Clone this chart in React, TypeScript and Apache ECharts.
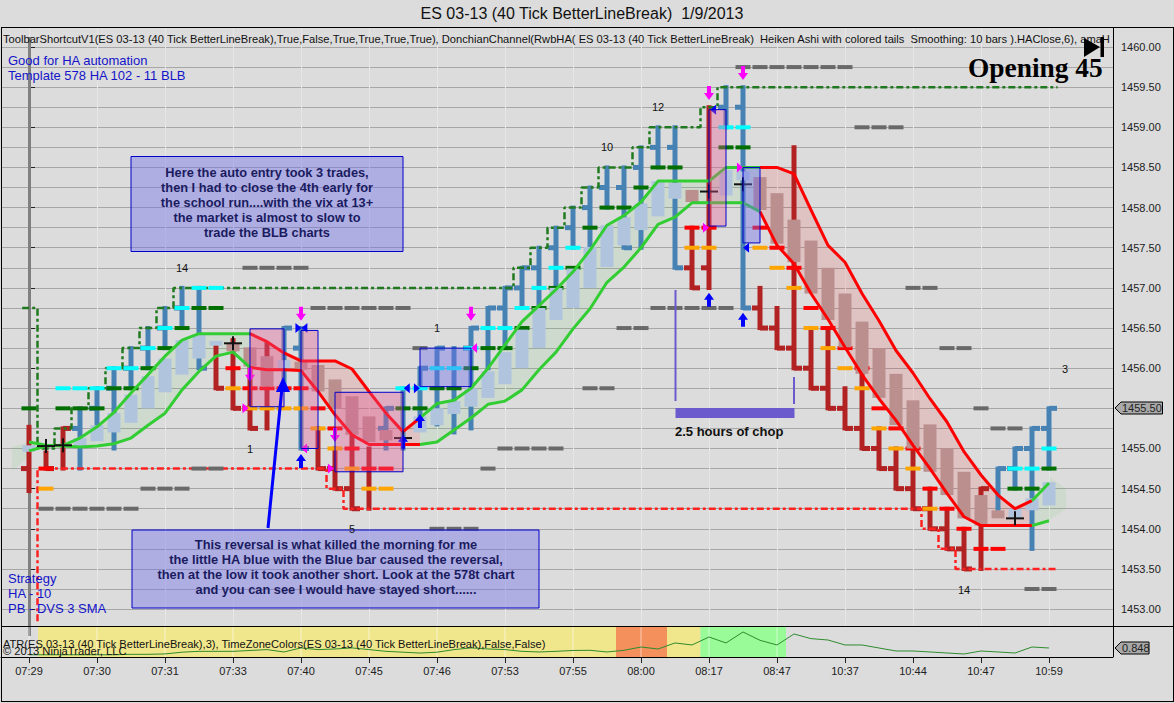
import React, { useEffect, useRef } from "react";
import * as echarts from "echarts";

const FONT = "'Liberation Sans', Arial, sans-serif";

const xTickLabels = ["07:29", "07:30", "07:31", "07:33", "07:40", "07:45", "07:46", "07:53", "07:55", "08:00", "08:17", "08:47", "10:37", "10:44", "10:47", "10:59"];
const xTickBars = [0, 4, 8, 12, 16, 20, 24, 28, 32, 36, 40, 44, 48, 52, 56, 60];
const priceLabels = [1453, 1453.5, 1454, 1454.5, 1455, 1455.5, 1456, 1456.5, 1457, 1457.5, 1458, 1458.5, 1459, 1459.5, 1460];
const priceGrid = [1453, 1453.25, 1453.5, 1453.75, 1454, 1454.25, 1454.5, 1454.75, 1455, 1455.25, 1455.5, 1455.75, 1456, 1456.25, 1456.5, 1456.75, 1457, 1457.25, 1457.5, 1457.75, 1458, 1458.25, 1458.5, 1458.75, 1459, 1459.25, 1459.5, 1459.75, 1460];

// bar, high, low, left tick, right tick, up(1)/down(0)
const lineBreakBars: (number | null)[][] = [
  [0, 1455.27, 1454.47, 1454.75, null, 0],
  [1, 1454.95, 1454.75, null, 1454.75, 0],
  [2, 1455.25, 1454.75, null, 1455.25, 0],
  [3, 1455.5, 1454.75, 1455.25, null, 1],
  [4, 1455.75, 1455.25, 1455.5, null, 1],
  [5, 1456, 1455, 1455.75, null, 1],
  [6, 1456.25, 1455.75, 1456, null, 1],
  [7, 1456.5, 1456, 1456.25, null, 1],
  [8, 1456.75, 1456.25, 1456.5, null, 1],
  [9, 1457, 1456.5, 1456.75, null, 1],
  [10, 1457, 1456, null, 1456, 1],
  [11, 1456.28, 1455.75, null, 1455.75, 0],
  [12, 1456.35, 1455.5, null, 1455.5, 0],
  [13, 1456, 1455.25, 1455.5, 1455.25, 0],
  [14, 1456.3, 1455.25, null, null, 0],
  [15, 1456.5, 1455.75, null, 1456.5, 1],
  [16, 1456.5, 1455, 1456.25, 1455, 1],
  [17, 1455.25, 1454.75, null, 1454.75, 0],
  [18, 1455, 1454.5, 1454.75, 1454.5, 0],
  [19, 1455.2, 1454.25, 1454.5, 1454.25, 0],
  [20, 1455, 1454.25, null, null, 0],
  [21, 1455.5, 1455, 1455.25, 1455.5, 1],
  [22, 1455.75, 1455, null, null, 1],
  [23, 1456, 1455.25, null, 1456, 1],
  [24, 1456.25, 1455.3, null, 1456.25, 1],
  [25, 1456.25, 1455.2, null, null, 1],
  [26, 1456.5, 1455.25, 1456.25, 1456.5, 1],
  [27, 1456.75, 1456, null, 1456.75, 1],
  [28, 1457, 1456.25, 1456.75, 1457, 1],
  [29, 1457.25, 1456.75, 1457, 1457.25, 1],
  [30, 1457.5, 1456.75, 1457.25, null, 1],
  [31, 1457.75, 1457, 1457.5, null, 1],
  [32, 1458, 1457.5, 1457.75, null, 1],
  [33, 1458.25, 1457.5, 1458, null, 1],
  [34, 1458.5, 1458, 1458.25, null, 1],
  [35, 1458.5, 1457.5, 1458.25, 1457.5, 1],
  [36, 1458.75, 1457.5, 1458.5, null, 1],
  [37, 1459, 1458.5, 1458.75, null, 1],
  [38, 1459, 1457.25, 1458.75, 1457.25, 1],
  [39, 1457.75, 1457, 1457.25, 1457, 0],
  [40, 1459.25, 1457, 1457.25, null, 0],
  [41, 1459.5, 1459, 1459.25, null, 1],
  [42, 1459.5, 1456.75, 1459.25, 1456.75, 1],
  [43, 1457, 1456.5, 1456.75, 1456.5, 0],
  [44, 1456.75, 1456.25, 1456.5, 1456.25, 0],
  [45, 1458.75, 1456, 1456.25, 1456, 0],
  [46, 1456.5, 1455.75, 1456, 1455.75, 0],
  [47, 1456.5, 1455.5, 1455.75, 1455.5, 0],
  [48, 1455.75, 1455.25, 1455.5, 1455.25, 0],
  [49, 1456, 1455, 1455.25, 1455, 0],
  [50, 1455.25, 1454.75, 1455, 1454.75, 0],
  [51, 1455, 1454.5, 1454.75, 1454.5, 0],
  [52, 1455, 1454.25, 1454.5, 1454.25, 0],
  [53, 1454.5, 1454, 1454.25, 1454, 0],
  [54, 1454.25, 1453.75, 1454, 1453.75, 0],
  [55, 1454, 1453.5, 1453.75, 1453.5, 0],
  [56, 1454.5, 1453.5, null, 1454.5, 0],
  [57, 1454.75, 1454.25, null, 1454.75, 1],
  [58, 1455, 1454.5, 1454.75, 1455, 1],
  [59, 1455.25, 1453.75, 1455, 1455.25, 1],
  [60, 1455.5, 1454.75, 1455.25, 1455.5, 1],
];

// bar, top, bottom, up(1)/down(0)
const haBoxes: number[][] = [
  [0, 1455.04, 1454.96, 1], [3, 1455.13, 1455.02, 1], [4, 1455.29, 1455.09, 1], [5, 1455.44, 1455.2, 1], [6, 1455.67, 1455.32, 1],
  [7, 1455.9, 1455.5, 1], [8, 1456.12, 1455.7, 1], [9, 1456.35, 1455.92, 1], [10, 1456.42, 1456.12, 1], [11, 1456.34, 1456.28, 1],
  [12, 1456.31, 1456.21, 0], [13, 1456.26, 1456.02, 0], [14, 1456.15, 1455.77, 0], [15, 1456.1, 1456, 1], [16, 1456.08, 1455.98, 0],
  [17, 1456.04, 1455.71, 0], [18, 1455.86, 1455.5, 0], [19, 1455.65, 1455.17, 0], [20, 1455.4, 1455.08, 0], [21, 1455.23, 1455.1, 0],
  [23, 1455.4, 1455.2, 1], [24, 1455.5, 1455.29, 1], [25, 1455.59, 1455.43, 1], [26, 1455.75, 1455.52, 1], [27, 1455.96, 1455.63, 1],
  [28, 1456.2, 1455.8, 1], [29, 1456.48, 1456, 1], [30, 1456.75, 1456.25, 1], [31, 1457, 1456.6, 1], [32, 1457.24, 1456.75, 1],
  [33, 1457.51, 1457, 1], [34, 1457.78, 1457.26, 1], [35, 1457.88, 1457.53, 1], [36, 1458.05, 1457.72, 1], [37, 1458.33, 1457.89, 1],
  [38, 1458.31, 1458.11, 1], [39, 1458.22, 1458.07, 0], [41, 1458.47, 1458.15, 1], [42, 1458.45, 1458.34, 1], [43, 1458.38, 1457.97, 0],
  [44, 1458.18, 1457.55, 0], [45, 1457.85, 1457.32, 0], [46, 1457.59, 1456.93, 0], [47, 1457.25, 1456.6, 0], [48, 1456.93, 1456.26, 0],
  [49, 1456.58, 1455.93, 0], [50, 1456.25, 1455.63, 0], [51, 1455.93, 1455.29, 0], [52, 1455.6, 1455, 0], [53, 1455.3, 1454.71, 0],
  [54, 1455, 1454.42, 0], [55, 1454.71, 1454.13, 0], [56, 1454.42, 1454.04, 0], [57, 1454.23, 1454.13, 0], [58, 1454.25, 1454.13, 1],
  [59, 1454.38, 1454.23, 1], [60, 1454.58, 1454.29, 1],
];

const cloudUpper = [1454.97, 1455.03, 1455.04, 1455.13, 1455.27, 1455.45, 1455.69, 1455.92, 1456.15, 1456.35, 1456.43, 1456.43, 1456.43, 1456.43, 1456.33, 1456.19, 1456.09, 1456.09, 1456.09, 1455.99, 1455.71, 1455.44, 1455.21, 1455.38, 1455.56, 1455.6, 1455.75, 1456, 1456.29, 1456.58, 1456.78, 1456.98, 1457.2, 1457.47, 1457.78, 1457.9, 1458.07, 1458.33, 1458.33, 1458.33, 1458.33, 1458.5, 1458.5, 1458.5, 1458.5, 1458.42, 1457.97, 1457.53, 1457.32, 1456.93, 1456.59, 1456.22, 1455.94, 1455.62, 1455.33, 1454.96, 1454.67, 1454.42, 1454.25, 1454.35, 1454.57];
const cloudLower = [1455.08, 1455.04, 1455.03, 1455.02, 1455.03, 1455.06, 1455.13, 1455.29, 1455.44, 1455.73, 1455.96, 1456.15, 1456.2, 1456.01, 1455.98, 1455.98, 1455.97, 1455.71, 1455.42, 1455.17, 1455.05, 1455.05, 1455.05, 1455.05, 1455.08, 1455.23, 1455.38, 1455.55, 1455.59, 1455.73, 1455.98, 1456.2, 1456.49, 1456.74, 1457.07, 1457.26, 1457.5, 1457.79, 1457.88, 1458.06, 1458.06, 1458.06, 1458.06, 1457.95, 1457.53, 1457.3, 1456.93, 1456.61, 1456.26, 1455.92, 1455.62, 1455.35, 1455.04, 1454.75, 1454.44, 1454.15, 1454.04, 1454.04, 1454.04, 1454.04, 1454.1];
// first bar, last bar, colour kind of the cloud stretches
const cloudRanges: [number, number, string][] = [[0, 13, "g"], [13, 23, "r"], [23, 43, "g"], [43, 59, "r"], [59, 60, "g"]];
// tails of the pale band: x, top, bottom, x, top, bottom
const cloudTails = [[-1, 1455.02, 1454.72, 0, 1455.08, 1454.9], [60, 1454.65, 1454.1, 61, 1454.5, 1454.25]];

const donchianUpper: number[][] = [[-0.4, 1456.75], [0.5, 1456.75], [0.5, 1455], [1, 1455], [2, 1455.25], [3, 1455.5], [4, 1455.75], [5, 1456], [6, 1456.25], [7, 1456.5], [8, 1456.75], [9, 1457], [28, 1457], [29, 1457.25], [30, 1457.5], [31, 1457.75], [32, 1458], [33, 1458.25], [34, 1458.5], [35, 1458.5], [36, 1458.75], [37, 1459], [39, 1459], [40, 1459.25], [41, 1459.5], [60.5, 1459.5]];
const donchianLower: number[][] = [[0.5, 1452.85], [0.5, 1454.75], [17, 1454.75], [18, 1454.5], [19, 1454.25], [52, 1454.25], [53, 1454], [54, 1453.75], [55, 1453.5], [60.5, 1453.5]];

const darkGreenDashes = [[0, 1455.5], [2, 1455.5], [3, 1455.5], [4, 1455.5], [5, 1455.75], [6, 1455.75], [7, 1456], [8, 1456.25], [9, 1456.5], [10, 1456.75], [11, 1456.75], [22, 1455.5], [23, 1455.5], [24, 1455.75], [25, 1455.75], [26, 1456], [27, 1456.25], [28, 1456.25], [29, 1456.5], [30, 1456.75], [31, 1457], [32, 1457.25], [33, 1457.75], [34, 1458], [35, 1458], [36, 1458.25], [37, 1458.5], [38, 1458.5], [41, 1458.75], [42, 1458.75], [58, 1454.5], [59, 1454.5], [60, 1454.75]];
const cyanDashes = [[2, 1455.75], [3, 1455.75], [4, 1455.75], [5, 1456], [6, 1456], [7, 1456.25], [8, 1456.5], [9, 1456.75], [10, 1457], [11, 1457], [22, 1455.75], [23, 1455.75], [24, 1456], [25, 1456], [26, 1456.25], [27, 1456.5], [28, 1456.5], [29, 1456.75], [30, 1457], [31, 1457.25], [32, 1457.5], [41, 1459], [42, 1459], [58, 1454.75], [59, 1454.75], [60, 1455]];
const orangeDashes = [[1, 1454.5], [12, 1455.75], [13, 1455.5], [14, 1455.5], [15, 1455.5], [16, 1455.5], [17, 1455.25], [18, 1455], [19, 1454.75], [20, 1454.5], [21, 1454.5], [39, 1457.5], [40, 1457.5], [43, 1457.5], [44, 1457.25], [45, 1457], [46, 1456.5], [47, 1456.25], [48, 1456], [49, 1455.75], [50, 1455.25], [51, 1455], [52, 1454.75], [53, 1454.25]];
const redDashes = [[1, 1454.75], [12, 1456], [13, 1455.75], [14, 1455.75], [15, 1455.75], [16, 1455.75], [17, 1455.5], [18, 1455.25], [19, 1455], [20, 1454.75], [21, 1454.75], [39, 1457.75], [40, 1457.75], [43, 1457.75], [44, 1457.5], [45, 1457.25], [46, 1456.75], [47, 1456.5], [48, 1456.25], [49, 1456], [50, 1455.5], [51, 1455.25], [52, 1455], [53, 1454.5], [54, 1454.25], [55, 1454], [56, 1453.75], [57, 1453.75]];
const grayDashes = [[1, 1454.25], [2, 1454.25], [3, 1454.25], [4, 1454.25], [5, 1454.25], [6, 1454.25], [7, 1454.5], [8, 1454.5], [9, 1454.5], [10, 1454.75], [11, 1454.75], [13, 1457.25], [14, 1457.25], [15, 1457.25], [16, 1457.25], [17, 1456.75], [18, 1456.75], [19, 1456.75], [20, 1456.75], [21, 1456.75], [22, 1456.75], [23, 1456.25], [24, 1454], [25, 1454], [26, 1454], [27, 1454.75], [28, 1455], [29, 1455], [30, 1455], [31, 1455], [33, 1455.75], [34, 1455.75], [35, 1456.5], [36, 1456.5], [37, 1456.75], [38, 1456.75], [39, 1456.75], [40, 1456.75], [41, 1456.75], [42, 1459.75], [43, 1459.75], [44, 1459.75], [45, 1459.75], [46, 1459.75], [47, 1459.75], [48, 1459.75], [49, 1459], [50, 1459], [51, 1459], [52, 1457], [53, 1457], [54, 1456.25], [55, 1456.25], [56, 1455.5], [57, 1455.25], [58, 1455.25], [59, 1453.25], [60, 1453.25]];

const crossMarks = [[1, 1455.03], [2, 1455.04], [12, 1456.31], [22, 1455.13], [40, 1458.2], [42, 1458.29], [58, 1454.13]];
const magentaDownArrows = [[13, 1455.83], [16, 1456.59], [18, 1455.08], [26, 1456.59], [40, 1459.34], [42, 1459.59]];
const blueUpArrows = [[16, 1454.93], [22, 1455.17], [23, 1455.43], [40, 1456.94], [42, 1456.69]];
// bar position, price, direction (1 points right, -1 points left), magenta(1)/blue(0)
const smallTriangles = [[12.74, 1455.5, 1, 1], [16.18, 1455, -1, 1], [17.76, 1454.75, 1, 1], [15.85, 1456.5, 1, 0], [16.2, 1456.5, -1, 0], [22.22, 1455.75, -1, 0], [22.82, 1455.75, 1, 0], [26.18, 1456.25, -1, 1], [41.82, 1458.5, 1, 1], [39.82, 1457.75, 1, 1], [42.18, 1457.5, -1, 0], [40.24, 1459.22, -1, 0]];
// first bar, last bar, top, bottom, pink(1)/blue(0)
const zoneRects = [[13, 15, 1456.49, 1455.52, 1], [16, 17, 1456.47, 1455, 1], [18, 22, 1455.7, 1454.71, 1], [23, 26, 1456.25, 1455.77, 0], [40, 41, 1459.22, 1457.77, 1], [42, 43, 1458.5, 1457.56, 0]];

const atrValues = [0.69, 0.69, 0.69, 0.69, 0.69, 0.69, 0.7, 0.7, 0.71, 0.75, 0.77, 0.77, 0.77, 0.79, 0.81, 0.755, 0.85, 0.81, 0.825, 0.85, 0.81, 0.77, 0.75, 0.73, 0.75, 0.81, 0.85, 0.825, 0.81, 0.77, 0.755, 0.77, 0.79, 0.794, 0.755, 0.794, 0.871, 0.825, 0.965, 0.918, 1.104, 0.965, 1.221, 1.027, 0.918, 1.174, 1.066, 1.034, 0.918, 0.918, 0.848, 0.778, 0.778, 0.755, 0.731, 0.708, 0.778, 0.755, 0.731, 0.871, 0.848];
// from bar, to bar, colour
const timeZones: [number, number, string][] = [[0.53, 34.53, "#F0E68C"], [34.53, 37.53, "#F4905C"], [37.53, 39.5, "#F0E68C"], [39.5, 44.53, "#98FB98"]];

const TITLE = "ES 03-13 (40 Tick BetterLineBreak)  1/9/2013";
const TOP_LABEL = "ToolbarShortcutV1(ES 03-13 (40 Tick BetterLineBreak),True,False,True,True,True,True), DonchianChannel(RwbHA( ES 03-13 (40 Tick BetterLineBreak)  Heiken Ashi with colored tails  Smoothing: 10 bars ).HAClose,6), amaH";
const ATR_LABEL = "ATR(ES 03-13 (40 Tick BetterLineBreak),3), TimeZoneColors(ES 03-13 (40 Tick BetterLineBreak),False,False)";
const NOTE_1 = ["Here the auto entry took 3 trades,", "then I had to close the 4th early for", "the school run....with the vix at 13+", "the market is almost to slow to", "trade the BLB charts"];
const NOTE_2 = ["This reversal is what killed the morning for me", "the little HA blue with the Blue bar caused the reversal,", "then at the low it took another short. Look at the 578t chart", "and you can see I would have stayed short......"];
const CORNER_1 = ["Good for HA automation", "Template 578 HA 102 - 11 BLB"];
const CORNER_2 = ["Strategy", "HA - 10", "PB - DVS 3 SMA"];
const COUNTS: [string, number, number][] = [["14", 182, 268], ["1", 250, 449], ["1", 437, 328], ["5", 352, 529], ["10", 607, 147], ["12", 658, 107], ["3", 1065, 369], ["14", 964, 590]];

const custom = (name: string, data: any[], renderItem: any, z: number, xi = 0, yi = 0) => ({
  type: "custom", name, data, renderItem, z, silent: true, xAxisIndex: xi, yAxisIndex: yi, encode: { x: 0, y: 1 }, animation: false,
});

const dashSeries = (name: string, data: number[][], fill: string, w = 15, h = 4) =>
  custom(name, data, (_p: any, api: any) => {
    const c = api.coord([api.value(0), api.value(1)]);
    return { type: "rect", shape: { x: c[0] - w / 2, y: c[1] - h / 2, width: w, height: h }, style: { fill } };
  }, 4);

const lineSeries = (name: string, data: number[][], color: string, width: number, extra: any = {}) => ({
  type: "line", name, data, symbol: "none", silent: true, xAxisIndex: 0, yAxisIndex: 0, z: 6, animation: false,
  lineStyle: { color, width, ...extra.lineStyle }, step: extra.step,
});

const text = (t: string, x: number, y: number, font: string, fill: string, textAlign = "left", z = 60) => ({
  type: "text", z, silent: true, style: { text: t, x, y, font, fill, textAlign, textVerticalAlign: "middle" },
});
const frame = (x: number, y: number, width: number, height: number, fill: string, z = 58) => ({
  type: "rect", z, silent: true, shape: { x, y, width, height }, style: { fill },
});

export default function App() {
  const ref = useRef<HTMLDivElement>(null);
  useEffect(() => {
    const chart = echarts.init(ref.current!, null, { renderer: "svg" });
    const series: any[] = [];

    // Pale band between the two lines
    const cloudRows: any[] = [];
    cloudRanges.forEach(([a, b, k]) => {
      for (let i = a; i < b; i++) cloudRows.push([i, cloudUpper[i], cloudLower[i], i + 1, cloudUpper[i + 1], cloudLower[i + 1], k === "g" ? 1 : 0]);
    });
    cloudTails.forEach((t) => cloudRows.push([t[0], t[1], t[2], t[3], t[4], t[5], 1]));
    series.push(custom("cloud", cloudRows, (_p: any, api: any) => {
      const x1 = api.value(0), x2 = api.value(3);
      const pts = [api.coord([x1, api.value(1)]), api.coord([x2, api.value(4)]), api.coord([x2, api.value(5)]), api.coord([x1, api.value(2)])];
      return { type: "polygon", shape: { points: pts }, style: { fill: api.value(6) ? "rgba(50,205,50,0.08)" : "rgba(255,0,0,0.11)" } };
    }, 2));

    // Donchian channel
    series.push(lineSeries("donchianUpper", donchianUpper, "#1f7a1f", 2.5, { step: "middle", lineStyle: { type: [7, 3, 3, 3] } }));
    series.push(lineSeries("donchianLower", donchianLower, "#ff2020", 2.5, { step: "middle", lineStyle: { type: [7, 3, 3, 3] } }));
    series[series.length - 1].z = 3; series[series.length - 2].z = 3;

    // Line-break bars
    series.push(custom("bars", lineBreakBars, (_p: any, api: any) => {
      const i = api.value(0);
      const fill = api.value(5) ? "#4682B4" : "#B22222";
      const hi = api.coord([i, api.value(1)]), lo = api.coord([i, api.value(2)]);
      const children: any[] = [{ type: "rect", shape: { x: hi[0] - 2.5, y: hi[1] - 2, width: 5, height: lo[1] - hi[1] + 4 }, style: { fill } }];
      const l = api.value(3), r = api.value(4);
      if (!isNaN(l)) { const c = api.coord([i, l]); children.push({ type: "rect", shape: { x: c[0] - 8, y: c[1] - 2.5, width: 8, height: 5 }, style: { fill } }); }
      if (!isNaN(r)) { const c = api.coord([i, r]); children.push({ type: "rect", shape: { x: c[0], y: c[1] - 2.5, width: 8, height: 5 }, style: { fill } }); }
      return { type: "group", children };
    }, 3));

    series.push(dashSeries("gray", grayDashes, "#696969"));
    series.push(dashSeries("darkgreen", darkGreenDashes, "#006f00"));
    series.push(dashSeries("cyan", cyanDashes, "#00ffff"));
    series.push(dashSeries("orange", orangeDashes, "#ffa500"));
    series.push(dashSeries("red", redDashes, "#ff0000"));

    // Heiken Ashi boxes
    series.push(custom("ha", haBoxes, (_p: any, api: any) => {
      const a = api.coord([api.value(0), api.value(1)]), b = api.coord([api.value(0), api.value(2)]);
      return { type: "rect", shape: { x: a[0] - 6.5, y: a[1], width: 13, height: b[1] - a[1] }, style: { fill: api.value(3) ? "#B0C4DE" : "#BC8F8F" } };
    }, 5));

    // Coloured band edges
    cloudRanges.forEach(([a, b, k], n) => {
      const color = k === "g" ? "#32CD32" : "#FF0000";
      const slice = (arr: number[]) => arr.slice(a, b + 1).map((v, j) => [a + j, v]);
      series.push(lineSeries("upper" + n, slice(cloudUpper), color, 3));
      series.push(lineSeries("lower" + n, slice(cloudLower), color, 3));
    });

    series.push(custom("cross", crossMarks, (_p: any, api: any) => {
      const c = api.coord([api.value(0), api.value(1)]);
      return { type: "group", children: [
        { type: "rect", shape: { x: c[0] - 9, y: c[1] - 1, width: 18, height: 2 }, style: { fill: "#111" } },
        { type: "rect", shape: { x: c[0] - 1, y: c[1] - 7, width: 2, height: 14 }, style: { fill: "#111" } },
      ] };
    }, 7));

    const arrow = (dir: number, fill: string) => (_p: any, api: any) => {
      const c = api.coord([api.value(0), api.value(1)]);
      const x = c[0], y = c[1];
      const pts = [[x, y], [x + 5, y + dir * 7], [x + 2, y + dir * 7], [x + 2, y + dir * 14], [x - 2, y + dir * 14], [x - 2, y + dir * 7], [x - 5, y + dir * 7]];
      return { type: "polygon", shape: { points: pts }, style: { fill } };
    };
    series.push(custom("downArrows", magentaDownArrows, arrow(-1, "#FF00FF"), 8));
    series.push(custom("upArrows", blueUpArrows, arrow(1, "#0000FF"), 8));
    series.push(custom("triangles", smallTriangles, (_p: any, api: any) => {
      const c = api.coord([api.value(0), api.value(1)]);
      const d = api.value(2);
      return { type: "polygon", shape: { points: [[c[0] + d * 3, c[1]], [c[0] - d * 3, c[1] - 5], [c[0] - d * 3, c[1] + 5]] }, style: { fill: api.value(3) ? "#FF00FF" : "#0000FF" } };
    }, 8));

    // Drawn zones
    series.push(custom("zones", zoneRects, (_p: any, api: any) => {
      const a = api.coord([api.value(0), api.value(2)]), b = api.coord([api.value(1), api.value(3)]);
      return { type: "rect", shape: { x: a[0], y: a[1], width: b[0] - a[0], height: b[1] - a[1] }, style: { fill: api.value(4) ? "rgba(230,90,150,0.36)" : "rgba(110,110,235,0.42)", stroke: "#0000c8", lineWidth: 1 } };
    }, 9));

    // ATR panel
    series.push(custom("timeZones", timeZones.map((t) => [t[0], 1, t[1], t[2]]), (_p: any, api: any) => {
      const row = timeZones[_p.dataIndex];
      const a = api.coord([row[0], 1.337]), b = api.coord([row[1], 0.638]);
      return { type: "rect", shape: { x: a[0], y: a[1], width: b[0] - a[0], height: b[1] - a[1] }, style: { fill: row[2] } };
    }, 2, 1, 2));
    series.push(custom("panelTicks", xTickBars.slice(0, 12).map((b) => [b, 1]), (_p: any, api: any) => {
      const a = api.coord([api.value(0), 1.337]), b = api.coord([api.value(0), 0.638]);
      return { type: "rect", shape: { x: a[0] - 0.5, y: a[1], width: 1, height: b[1] - a[1] }, style: { fill: "rgba(255,255,255,0.55)" } };
    }, 3, 1, 2));
    series.push({
      type: "line", name: "ATR", data: atrValues.map((v, i) => [i, v]), xAxisIndex: 1, yAxisIndex: 2, symbol: "none", silent: true, z: 5, animation: false,
      lineStyle: { color: "#2e8b2e", width: 1 },
    });

    const labelFont = { fontFamily: FONT, fontSize: 11, color: "#222" };
    const xMin = (1 - 29) / 17, xMax = (1113 - 29) / 17;
    const graphics: any[] = [
      // vertical session marker
      frame(28, 37, 3, 599, "#808080", 1),
      // frames
      frame(1, 27, 1173, 1, "#000"), frame(1, 27, 1, 675, "#000"), frame(1, 626, 1173, 1, "#000"), frame(1, 701, 1173, 1, "#000"), frame(1173, 27, 1, 675, "#000"),
      frame(1113, 27, 1, 630, "#000"),
      text(TITLE, 582, 13, `16px ${FONT}`, "#111", "center"),
      text(TOP_LABEL, 3, 39, `11.15px ${FONT}`, "#111"),
      text(ATR_LABEL, 3, 644, `11.1px ${FONT}`, "#111"),
      text("© 2013 NinjaTrader, LLC", 3, 651, `11.2px ${FONT}`, "#111"),
      text(CORNER_1[0], 8, 60, `13px ${FONT}`, "#1414c8"),
      text(CORNER_1[1], 8, 75, `13px ${FONT}`, "#1414c8"),
      text(CORNER_2[0], 8, 578, `13px ${FONT}`, "#1414c8"),
      text(CORNER_2[1], 8, 593, `13px ${FONT}`, "#1414c8"),
      text(CORNER_2[2], 8, 608, `13px ${FONT}`, "#1414c8"),
      text("Opening 45", 968, 68, `bold 27.4px 'Liberation Serif', serif`, "#000"),
      { type: "polygon", z: 60, silent: true, shape: { points: [[1084, 38], [1100, 47], [1084, 57]] }, style: { fill: "#000" } },
      frame(1100.5, 37, 3.5, 20, "#000", 60),
      // note boxes
      { type: "rect", z: 55, silent: true, shape: { x: 131, y: 156.5, width: 272, height: 95 }, style: { fill: "rgba(110,110,235,0.42)", stroke: "#0000c8", lineWidth: 1 } },
      { type: "rect", z: 55, silent: true, shape: { x: 132, y: 530, width: 407, height: 78 }, style: { fill: "rgba(110,110,235,0.42)", stroke: "#0000c8", lineWidth: 1 } },
      ...NOTE_1.map((t, i) => text(t, 267, 172 + i * 15, `bold 12.8px ${FONT}`, "#1b1b60", "center")),
      ...NOTE_2.map((t, i) => text(t, 336, 544 + i * 15, `bold 12.8px ${FONT}`, "#1b1b60", "center")),
      ...COUNTS.map(([t, x, y]) => text(t, x, y, `11px ${FONT}`, "#111", "center")),
      // big arrow
      { type: "line", z: 56, silent: true, shape: { x1: 268, y1: 528, x2: 282, y2: 388 }, style: { stroke: "#0000FF", lineWidth: 3 } },
      { type: "polygon", z: 56, silent: true, shape: { points: [[283, 377], [290, 392], [276, 392]] }, style: { fill: "#0000FF" } },
      // chop span
      frame(674.5, 290, 2, 111, "#6a5acd", 56), frame(793, 377, 2, 27, "#6a5acd", 56), frame(675.5, 408, 119, 10, "#6a5acd", 56),
      text("2.5 hours of chop", 675, 431, `bold 13px ${FONT}`, "#111"),
      // price tags
      { type: "polygon", z: 60, silent: true, shape: { points: [[1115, 408], [1121, 402], [1162.5, 402], [1162.5, 414], [1121, 414]] }, style: { fill: "#a9a9a9", stroke: "#000", lineWidth: 1 } },
      text("1455.50", 1122, 408, `11px ${FONT}`, "#222"),
      { type: "polygon", z: 60, silent: true, shape: { points: [[1115, 648], [1121, 642], [1149, 642], [1149, 654], [1121, 654]] }, style: { fill: "#a9a9a9", stroke: "#000", lineWidth: 1 } },
      text("0.848", 1122, 648, `11px ${FONT}`, "#222"),
    ];

    chart.setOption({
      animation: false,
      backgroundColor: "#dcdcdc",
      grid: [
        { left: 1, top: 27, width: 1112, height: 600 },
        { left: 1, top: 627, width: 1112, height: 30 },
      ],
      xAxis: [
        { type: "value", gridIndex: 0, min: xMin, max: xMax, axisLine: { show: false }, axisLabel: { show: false }, axisTick: { show: false, customValues: xTickBars }, splitLine: { show: true, lineStyle: { color: "#e6e6e6", width: 1 } } },
        { type: "value", gridIndex: 1, min: xMin, max: xMax, axisLine: { show: true, onZero: false, lineStyle: { color: "#000" } }, axisTick: { show: true, length: 6, lineStyle: { color: "#222" }, customValues: xTickBars }, axisLabel: { show: true, ...labelFont, margin: 8, customValues: xTickBars, formatter: (v: number) => xTickLabels[xTickBars.indexOf(v)] ?? "" }, splitLine: { show: false } },
      ],
      yAxis: [
        { type: "value", gridIndex: 0, position: "right", min: 1452.777, max: 1460.249, axisLine: { show: false }, axisTick: { show: true, length: 6, lineStyle: { color: "#222" }, customValues: priceLabels }, axisLabel: { show: true, ...labelFont, margin: 8, customValues: priceLabels, formatter: (v: number) => v.toFixed(2) }, splitLine: { show: false } },
        { type: "value", gridIndex: 0, position: "left", min: 1452.777, max: 1460.249, axisLine: { show: false }, axisLabel: { show: false }, axisTick: { show: false, customValues: priceGrid }, splitLine: { show: true, lineStyle: { color: "#a6a6a6", width: 1 } } },
        { type: "value", gridIndex: 1, position: "right", min: 0.638, max: 1.337, axisLine: { show: false }, axisLabel: { show: false }, axisTick: { show: false }, splitLine: { show: false } },
      ],
      series,
      graphic: { elements: graphics },
    });
    return () => chart.dispose();
  }, []);
  return <div ref={ref} style={{ position: "absolute", left: 0, top: 0, width: 1174, height: 703 }} />;
}
